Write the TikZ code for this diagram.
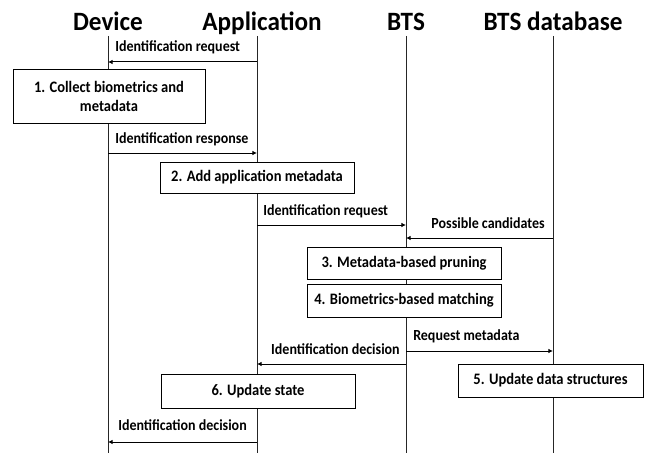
\documentclass[tikz,border=0pt]{standalone}
\usepackage{fontspec}
\setmainfont{Carlito}
\usetikzlibrary{arrows.meta}
\newcommand{\tl}[1]{\scalebox{1}[1.1]{#1}}
\tikzset{
  hdr/.style={anchor=base,inner sep=0pt,font=\fontsize{18.9}{20}\selectfont\bfseries},
  lbl/.style={inner sep=0pt,font=\fontsize{10.5}{12}\selectfont\bfseries},
  stepbox/.style={draw=black,line width=0.75pt,fill=white,inner sep=0pt,align=center,
    font=\fontsize{10.9}{14.5}\selectfont\bfseries},
  life/.style={line width=0.75pt,draw=black!85},
  msg/.style={line width=0.75pt,-{Latex[length=3.5pt,width=3.5pt]}},
}
\begin{document}
\begin{tikzpicture}[x=0.75pt,y=-0.75pt]
\useasboundingbox (0,0) rectangle (657,453);
% headers
\node[hdr] (hdev) at (108,31) {\scalebox{1}[1.05]{Device}};
\node[hdr] (happ) at (262,31) {\scalebox{1}[1.05]{Application}};
\node[hdr] (hbts) at (406,31) {\scalebox{1}[1.05]{BTS}};
\node[hdr] (hdb) at (553,31) {\scalebox{1}[1.05]{BTS database}};
% lifelines
\coordinate (devT) at (108,36); \coordinate (devB) at (108,453);
\coordinate (appT) at (257,36); \coordinate (appB) at (257,453);
\coordinate (btsT) at (406,36); \coordinate (btsB) at (406,453);
\coordinate (dbT) at (553,36); \coordinate (dbB) at (553,453);
\draw[life] (devT) -- (devB);
\draw[life] (appT) -- (appB);
\draw[life] (btsT) -- (btsB);
\draw[life] (dbT) -- (dbB);
% boxes
\node[stepbox,minimum width={192*0.75pt},minimum height={53*0.75pt}] (b1) at (109,96.5) {\tl{1. Collect biometrics and}\\\tl{metadata}};
\node[stepbox,minimum width={194*0.75pt},minimum height={31*0.75pt}] (b2) at (257,177.5) {\tl{2. Add application metadata}};
\node[stepbox,minimum width={194*0.75pt},minimum height={32*0.75pt}] (b3) at (404,263) {\tl{3. Metadata-based pruning}};
\node[stepbox,minimum width={194*0.75pt},minimum height={33*0.75pt}] (b4) at (404,300.5) {\tl{4. Biometrics-based matching}};
\node[stepbox,minimum width={185*0.75pt},minimum height={33*0.75pt}] (b5) at (550.5,380.5) {\tl{5. Update data structures}};
\node[stepbox,minimum width={194*0.75pt},minimum height={34*0.75pt}] (b6) at (258,391) {\tl{6. Update state}};
% message end points
\coordinate (m1s) at (257,62);  \coordinate (m1e) at (108,62);
\coordinate (m2s) at (108,153); \coordinate (m2e) at (257,153);
\coordinate (m3s) at (257,225); \coordinate (m3e) at (406,225);
\coordinate (m4s) at (553,238); \coordinate (m4e) at (406,238);
\coordinate (m5s) at (406,351); \coordinate (m5e) at (553,351);
\coordinate (m6s) at (406,364); \coordinate (m6e) at (257,364);
\coordinate (m7s) at (257,442); \coordinate (m7e) at (108,442);
\draw[msg] (m1s) -- (m1e);
\draw[msg] (m2s) -- (m2e);
\draw[msg] (m3s) -- (m3e);
\draw[msg] (m4s) -- (m4e);
\draw[msg] (m5s) -- (m5e);
\draw[msg] (m6s) -- (m6e);
\draw[msg] (m7s) -- (m7e);
% labels
\node[lbl,anchor=base west] (l1) at (115,52) {\tl{Identification request}};
\node[lbl,anchor=base west] (l2) at (115,143) {\tl{Identification response}};
\node[lbl,anchor=base west] (l3) at (263,215) {\tl{Identification request}};
\node[lbl,anchor=base east] (l4) at (545,228) {\tl{Possible candidates}};
\node[lbl,anchor=base west] (l5) at (413,340) {\tl{Request metadata}};
\node[lbl,anchor=base east] (l6) at (400,354) {\tl{Identification decision}};
\node[lbl,anchor=base west] (l7) at (118,430) {\tl{Identification decision}};
\end{tikzpicture}
\end{document}
